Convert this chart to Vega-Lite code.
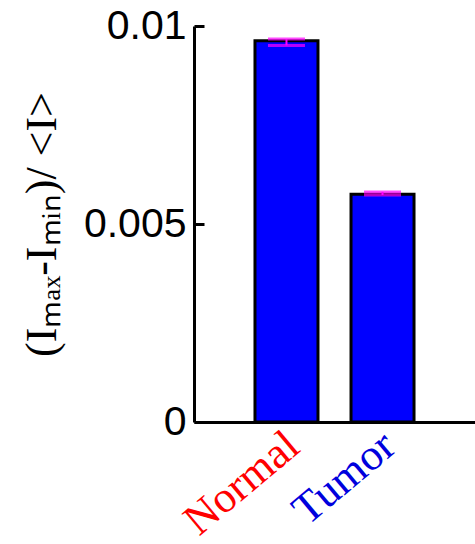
{
  "$schema": "https://vega.github.io/schema/vega-lite/v6.json",
  "autosize": "none",
  "width": 281,
  "height": 396,
  "padding": {"left": 194, "top": 26, "right": 0, "bottom": 122},
  "background": "white",
  "config": {"view": {"stroke": null}},
  "data": {"values": [
    {"group": "Normal", "value": 0.00963, "lo": 0.00951, "hi": 0.00967},
    {"group": "Tumor", "value": 0.00575, "lo": 0.00573, "hi": 0.00581}
  ]},
  "encoding": {
    "x": {
      "field": "group", "type": "nominal", "sort": null,
      "scale": {"paddingInner": 0.344, "paddingOuter": 0.635},
      "axis": {
        "title": null, "ticks": false, "domainColor": "black", "domainWidth": 3,
        "labelAngle": -40, "labelAlign": "right", "labelBaseline": "top",
        "labelFont": "Liberation Serif", "labelFontSize": 44, "labelPadding": 1, "labelOffset": -7,
        "labelColor": {"condition": {"test": "datum.value == 'Normal'", "value": "#ff0000"}, "value": "#0000dd"}
      }
    }
  },
  "layer": [
    {
      "mark": {"type": "bar", "fill": "#0000ff", "stroke": "black", "strokeWidth": 3},
      "encoding": {
        "y": {
          "field": "value", "type": "quantitative",
          "scale": {"domain": [0, 0.01], "nice": false},
          "axis": {
            "values": [0, 0.005, 0.01], "format": "~g", "grid": false,
            "domainColor": "black", "domainWidth": 3, "tickColor": "black", "tickWidth": 3, "tickSize": -10,
            "labelFont": "Liberation Sans", "labelFontSize": 41, "labelColor": "black", "labelPadding": 18,
            "title": "(Iₘₐₓ-Iₘᵢₙ)/ <I>", "titleFont": "Liberation Serif", "titleFontSize": 44,
            "titleFontWeight": "normal", "titleColor": "black", "titlePadding": 19
          }
        }
      }
    },
    {
      "mark": {"type": "rule", "color": "#ff00ff", "strokeWidth": 2},
      "encoding": {"y": {"field": "lo", "type": "quantitative"}, "y2": {"field": "hi"}}
    },
    {
      "mark": {"type": "tick", "color": "#ff00ff", "thickness": 3, "size": 37},
      "encoding": {"y": {"field": "lo", "type": "quantitative"}}
    },
    {
      "mark": {"type": "tick", "color": "#ff00ff", "thickness": 3, "size": 37},
      "encoding": {"y": {"field": "hi", "type": "quantitative"}}
    }
  ]
}
